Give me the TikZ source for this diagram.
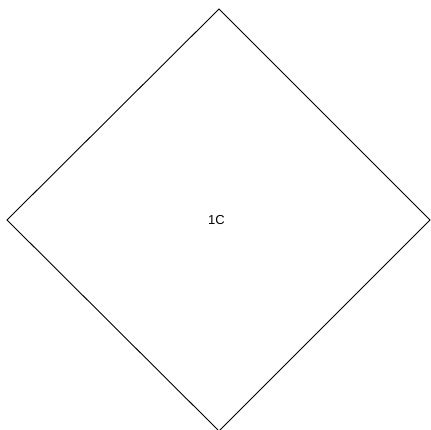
\documentclass[tikz,border=0pt]{standalone}
\usepackage{fontspec}
\setmainfont{Liberation Sans}
\begin{document}
\begin{tikzpicture}[x=1pt,y=1pt,line width=0.9pt,
  lbl/.style={inner sep=0pt,font=\fontsize{13}{15}\selectfont}]
\useasboundingbox (0,0) rectangle (431,430);
\coordinate (t) at (219,421);
\coordinate (l) at (7,210);
\coordinate (r) at (430,210);
\coordinate (b) at (219,-1);
\draw (t) -- (r) -- (b) -- (l) -- cycle;
\node[lbl] (c) at (216.5,209.5) {1C};
\end{tikzpicture}
\end{document}
